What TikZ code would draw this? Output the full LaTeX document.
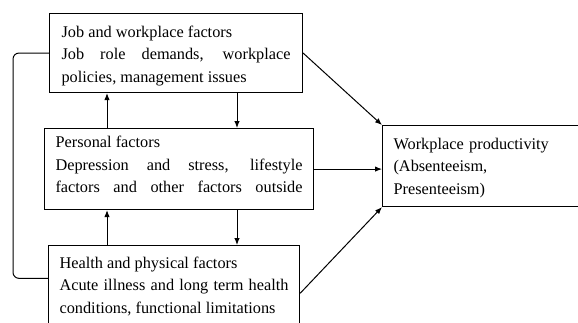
\documentclass[tikz,border=0pt]{standalone}
\usepackage{fontspec}
\setmainfont{Liberation Serif}
\usetikzlibrary{arrows.meta, positioning, calc}
\tikzset{
  factorbox/.style={draw, line width=1.1pt, rectangle, inner xsep=10pt, inner ysep=5pt,
    align=justify, anchor=north west, font=\fontsize{16.3}{22.5}\selectfont},
  arr/.style={-{Latex[length=7pt,width=5.5pt]}, line width=1pt}
}
\begin{document}
\sloppy\hyphenpenalty=10000
\begin{tikzpicture}[x=1pt, y=-1pt]
    \useasboundingbox (0,0) rectangle (578,322);
    \clip (0,0) rectangle (578,322);
    \node[factorbox, text width=229pt, minimum width=253pt, minimum height=79pt] (job) at (49,13) {
      \rule{0pt}{17pt}Job and workplace factors\\
      Job role demands, workplace\linebreak policies, management issues
    };
    \node[factorbox, text width=247pt, minimum width=269pt, minimum height=81pt] (pers) at (44,128) {
      {\parfillskip=0pt Personal factors\\
      Depression and stress, lifestyle\linebreak factors and other factors outside\rule[-9.5pt]{0pt}{1pt}\par}
    };
    \node[factorbox, text width=229pt, minimum width=251pt, minimum height=81.6pt] (health) at (48,245) {
      Health and physical factors\\
      Acute illness and long term health\linebreak conditions, functional limitations
    };
    \node[factorbox, align=left, text width=200pt, minimum width=222pt, minimum height=81pt] (prod) at (382,125) {
      \rule{0pt}{15pt}Workplace productivity\\
      (Absenteeism,\\
      Presenteeism)
    };
    % columns of the vertical links
    \coordinate (colL) at (107,0);
    \coordinate (colR) at (237,0);
    \coordinate (brk) at (13,0);
    \coordinate (hlink) at ([yshift=8pt]health.west);
    \draw[arr] (colR |- job.south) -- (colR |- pers.north);
    \draw[arr] (colL |- pers.north) -- (colL |- job.south);
    \draw[arr] (colR |- pers.south) -- (colR |- health.north);
    \draw[arr] (colL |- health.north) -- (colL |- pers.south);
    % links to productivity
    \draw[arr] (job.east) -- (prod.north west);
    \draw[arr] (pers.east) -- (prod.west |- pers.east);
    \draw[arr] ([yshift=-7pt]health.east) -- (prod.south west);
    % left bracket
    \draw[line width=1pt, rounded corners=6pt] (job.west) -- (brk |- job.west)
      -- (brk |- hlink) -- (hlink);
  \end{tikzpicture}
\end{document}
